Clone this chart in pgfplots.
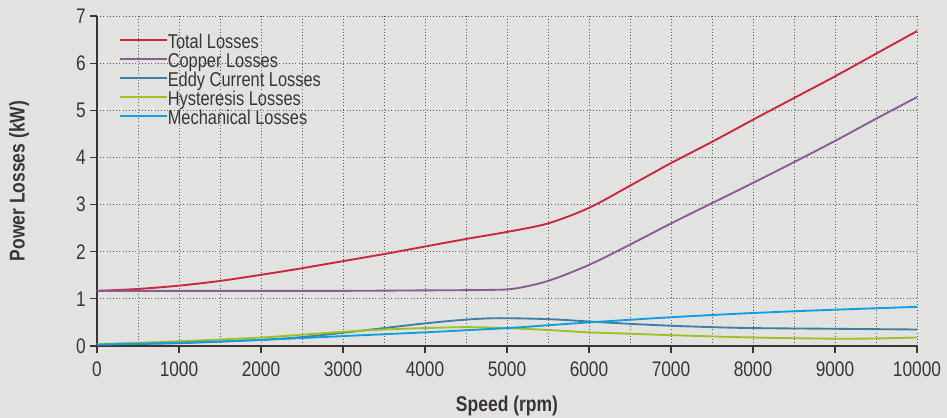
\documentclass[border=0pt]{standalone}
\usepackage{pgfplots}
\pgfplotsset{compat=1.18}
\usepackage{fontspec}
\setmainfont{Liberation Sans}[FakeStretch=0.82]
\definecolor{bg}{HTML}{E2E2E1}
\definecolor{txt}{HTML}{3A3533}
\definecolor{cTot}{HTML}{C8283A}
\definecolor{cCu}{HTML}{8A5C94}
\definecolor{cEd}{HTML}{3F7FA6}
\definecolor{cHy}{HTML}{9DC124}
\definecolor{cMe}{HTML}{119EE0}
\begin{document}
\begin{tikzpicture}[x=1pt,y=1pt]
\fill[bg] (-72.75,-54) rectangle (637.5,259.5);
\begin{axis}[
  scale only axis, width=615pt, height=247.5pt,
  at={(0,0)}, anchor=origin,
  xmin=0, xmax=10000, ymin=0, ymax=7,
  axis x line*=bottom, axis y line*=left,
  axis line style={txt, line width=0.9pt, -},
  xtick={0,1000,...,10000},
  minor xtick={500,1500,...,9500},
  ytick={0,1,...,7},
  xmajorgrids, xminorgrids, ymajorgrids,
  major grid style={dotted, black!65, line width=0.6pt},
  minor grid style={dotted, black!65, line width=0.6pt},
  minor tick length=0pt,
  xtick style={txt, line width=0.8pt},
  ytick style={txt, line width=0.8pt},
  x tick label style={font=\fontsize{15.8}{17}\selectfont, text=txt, yshift=-3pt},
  y tick label style={font=\fontsize{15.8}{17}\selectfont, text=txt},
  tick align=outside,
  major tick length=5pt,
  /pgf/number format/assume math mode=true,
  /pgf/number format/1000 sep={},
  scaled x ticks=false,
  xlabel={Speed (rpm)},
  ylabel={Power Losses (kW)},
  every axis x label/.style={at={(axis description cs:0.5,0)}, anchor=center, yshift=-45pt, inner sep=0pt,
    font=\fontsize{16}{18}\selectfont\bfseries, text=txt},
  every axis y label/.style={at={(axis description cs:-0.095,0.5)}, rotate=90, anchor=center, inner sep=0pt,
    font=\fontsize{16}{18}\selectfont\bfseries, text=txt},
  legend style={at={(axis description cs:0.026,0.945)}, anchor=north west, draw=none, fill=none,
    font=\fontsize{15}{15}\selectfont, text=txt, row sep=0pt, inner sep=0pt,
    nodes={text height=10.5pt, text depth=3.75pt, inner sep=0pt, outer sep=0pt}},
  legend cell align=left,
  legend image code/.code={\draw[#1, line width=1.3pt] (0pt,3pt) -- (32pt,3pt); \path (0pt,3pt) -- (35.5pt,3pt);},
  every axis plot/.append style={line width=1.4pt, smooth, tension=0.5, no markers},
  clip=false,
]
\addplot[cTot] coordinates {(0,1.17)(500,1.21)(1000,1.28)(1500,1.38)(2000,1.51)(2500,1.65)(3000,1.8)(3500,1.95)(4000,2.11)(4500,2.27)(5000,2.42)(5500,2.6)(6000,2.93)(6500,3.4)(7000,3.88)(7500,4.33)(8000,4.8)(8500,5.26)(9000,5.72)(9500,6.2)(10000,6.68)};
\addlegendentry{Total Losses}
\addplot[cCu] coordinates {(0,1.17)(1000,1.17)(2000,1.17)(3000,1.17)(4000,1.18)(4800,1.19)(5100,1.22)(5500,1.38)(6000,1.72)(6500,2.15)(7000,2.6)(7500,3.03)(8000,3.46)(8500,3.9)(9000,4.35)(9500,4.82)(10000,5.28)};
\addlegendentry{Copper Losses}
\addplot[cEd] coordinates {(0,0.03)(1000,0.06)(2000,0.13)(2500,0.19)(3000,0.28)(3500,0.38)(4000,0.48)(4500,0.56)(4900,0.59)(5500,0.57)(6000,0.52)(6500,0.47)(7000,0.43)(7500,0.4)(8000,0.38)(9000,0.365)(10000,0.35)};
\addlegendentry{Eddy Current Losses}
\addplot[cHy] coordinates {(0,0.04)(1000,0.1)(2000,0.18)(2500,0.24)(3000,0.3)(3500,0.35)(4000,0.38)(4500,0.4)(5000,0.38)(5500,0.34)(6000,0.29)(6500,0.26)(7000,0.23)(8000,0.18)(9000,0.155)(9500,0.16)(10000,0.18)};
\addlegendentry{Hysteresis Losses}
\addplot[cMe] coordinates {(0,0.03)(1000,0.07)(2000,0.13)(3000,0.21)(4000,0.29)(5000,0.38)(5500,0.44)(6000,0.5)(7000,0.61)(8000,0.7)(9000,0.77)(10000,0.83)};
\addlegendentry{Mechanical Losses}
\end{axis}
\end{tikzpicture}
\end{document}
